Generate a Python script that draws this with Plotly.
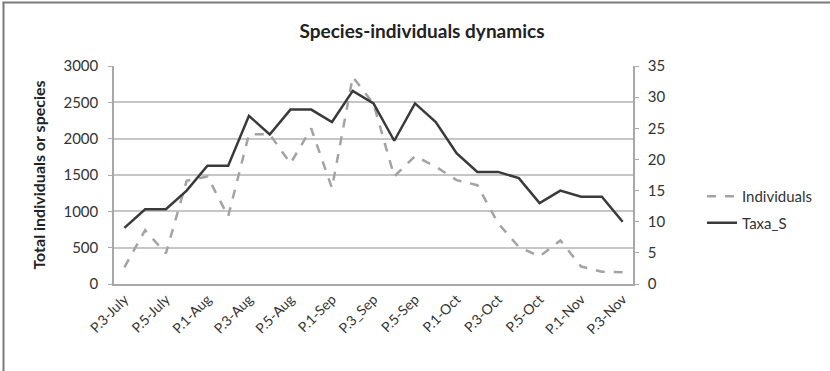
import plotly.graph_objects as go

categories = [
    "P.3-July", "P.4-July", "P.5-July", "P.6-July",
    "P.1-Aug", "P.2-Aug", "P.3-Aug", "P.4-Aug", "P.5-Aug", "P.6-Aug",
    "P.1-Sep", "P.2-Sep", "P.3_Sep", "P.4-Sep", "P.5-Sep", "P.6-Sep",
    "P.1-Oct", "P.2-Oct", "P.3-Oct", "P.4-Oct", "P.5-Oct", "P.6-Oct",
    "P.1-Nov", "P.2-Nov", "P.3-Nov",
]
individuals = [230, 740, 420, 1420, 1480, 930, 2060, 2060, 1660, 2140,
               1320, 2850, 2480, 1480, 1760, 1615, 1430, 1360, 835, 510,
               380, 600, 240, 170, 160]
taxa_s = [9, 12, 12, 15, 19, 19, 27, 24, 28, 28,
          26, 31, 29, 23, 29, 26, 21, 18, 18, 17,
          13, 15, 14, 14, 10]
shown_ticks = categories[::2]
left_ticks = [0, 500, 1000, 1500, 2000, 2500, 3000]
right_ticks = [0, 5, 10, 15, 20, 25, 30, 35]

FONT = "Lato"

fig = go.Figure()
fig.add_trace(go.Scatter(
    x=categories, y=individuals, name="Individuals", mode="lines",
    line=dict(color="#a3a3a3", width=2.5, dash="dash"),
    legendgroup="a", yaxis="y"))
fig.add_trace(go.Scatter(
    x=categories, y=taxa_s, name="Taxa_S", mode="lines",
    line=dict(color="#3a3a3a", width=2.5),
    legendgroup="b", yaxis="y2"))

L, R, T, B = 114, 633, 66, 284
W, H = 830, 371
pw, ph = R - L, B - T

def px_x(p):
    return (p - L) / pw

def px_y(p):
    return (B - p) / ph

fig.update_layout(
    width=W, height=H,
    margin=dict(l=L, r=W - R, t=T, b=H - B),
    paper_bgcolor="white", plot_bgcolor="white",
    font=dict(family=FONT, size=14, color="#333333"),
    title=dict(text="<b>Species-individuals dynamics</b>", x=422 / W, xref="container",
               xanchor="center", y=1 - 31 / H, yanchor="middle",
               font=dict(family=FONT, size=19, color="#222222")),
    xaxis=dict(type="category", categoryorder="array", categoryarray=categories,
               tickmode="array", tickvals=shown_ticks, ticktext=shown_ticks,
               tickangle=-45, showgrid=False, showline=True, linecolor="#a8a8a8",
               linewidth=1.5, ticks="", tickfont=dict(size=14, color="#333333"),
               range=[-0.5, len(categories) - 0.5]),
    yaxis=dict(range=[0, 3000], tickvals=left_ticks, showgrid=True,
               gridcolor="#c6c6c6", gridwidth=1.5, showline=True, linecolor="#a8a8a8",
               linewidth=1.5, ticks="outside", ticklen=4, tickcolor="#a8a8a8",
               ticklabelstandoff=7,
               tickfont=dict(size=15, color="#333333"), zeroline=False,
               title=dict(text="<b>Total individuals or species</b>", standoff=14,
                          font=dict(size=16, color="#222222"))),
    yaxis2=dict(range=[0, 35], tickvals=right_ticks, overlaying="y", side="right",
                showgrid=False, showline=True, linecolor="#a8a8a8", linewidth=1.5,
                ticks="outside", ticklen=4, tickcolor="#a8a8a8",
                ticklabelstandoff=6,
                tickfont=dict(size=15, color="#333333"), zeroline=False),
    legend=dict(x=px_x(702), y=px_y(180), xanchor="left", yanchor="top",
                font=dict(size=15, color="#333333"), tracegroupgap=4,
                traceorder="grouped", bgcolor="rgba(0,0,0,0)"),
    showlegend=True,
)

border = "#7a7a7a"
fig.add_shape(type="line", xref="paper", yref="paper",
              x0=px_x(3.5), x1=px_x(3.5), y0=px_y(H), y1=px_y(2.5),
              line=dict(color=border, width=2))
fig.add_shape(type="line", xref="paper", yref="paper",
              x0=px_x(2.5), x1=px_x(W), y0=px_y(2.5), y1=px_y(2.5),
              line=dict(color=border, width=2))

fig.write_html("out.html")
